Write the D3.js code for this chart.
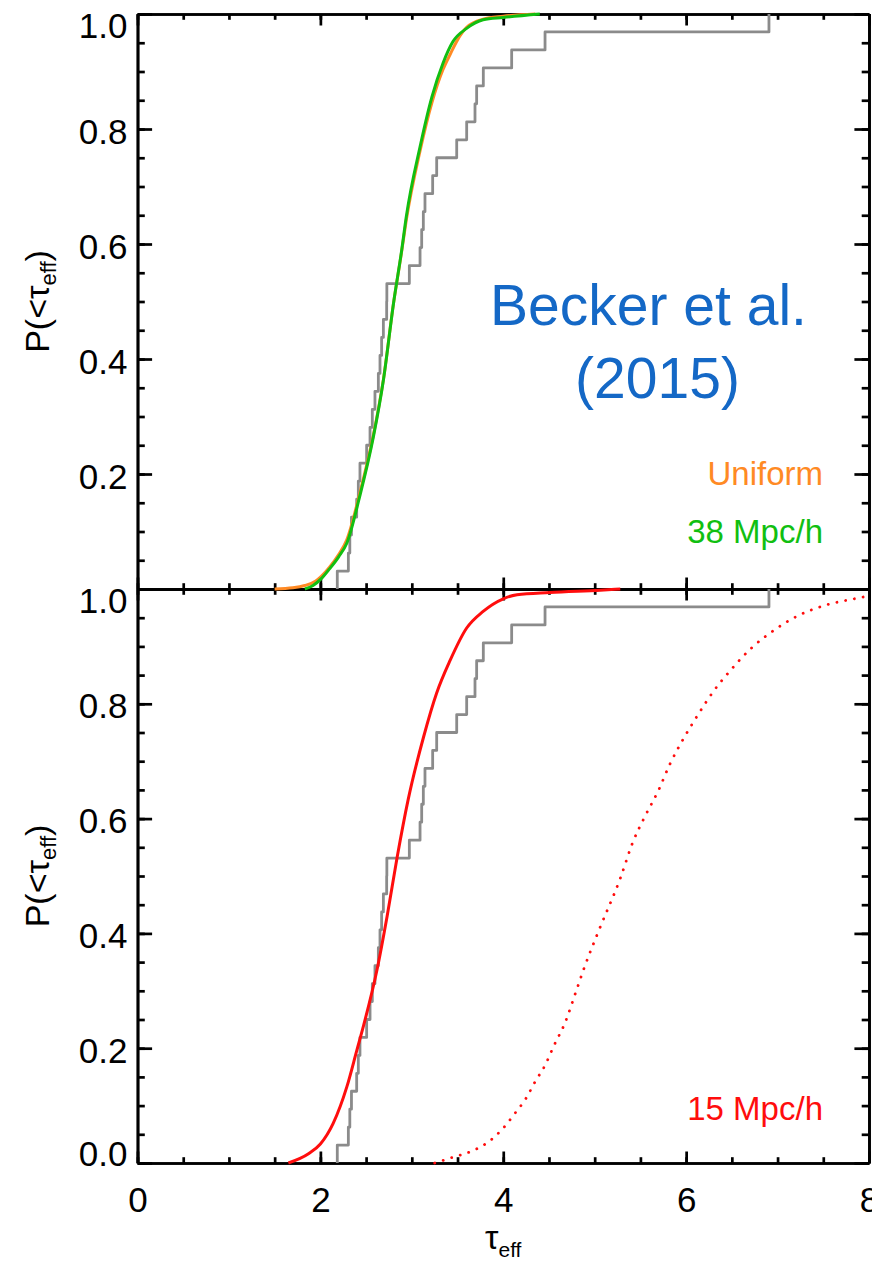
<!DOCTYPE html>
<html>
<head>
<meta charset="utf-8">
<script src="https://cdn.jsdelivr.net/npm/d3@7"></script>
<style>
  body { margin: 0; background: #fff; }
  svg { display: block; }
  text { font-family: "Liberation Sans", Arial, Helvetica, sans-serif; }
</style>
</head>
<body>
<svg id="chart" width="872" height="1263"></svg>
<script>
// ---- data -------------------------------------------------------------
// Observed effective optical depths (Becker et al. 2015), sorted; drawn as an empirical CDF
const observedTau = [2.185, 2.306, 2.322, 2.340, 2.397, 2.415, 2.433, 2.506,
                     2.543, 2.568, 2.597, 2.634, 2.652, 2.670, 2.689, 2.725,
                     2.727, 2.973, 3.090, 3.108, 3.126, 3.144, 3.228, 3.272,
                     3.491, 3.600, 3.691, 3.709, 3.782, 4.092, 4.457, 6.906];

// Model CDFs, top panel
const uniformTau = [1.50, 1.70, 1.83, 1.95, 2.01, 2.10, 2.20, 2.29, 2.43, 2.58, 2.69, 2.80,
                    2.89, 2.94, 3.09, 3.22, 3.34, 3.42, 3.50, 3.60, 3.78, 4.00, 4.35];
const uniformP   = [0.000, 0.002, 0.006, 0.014, 0.022, 0.038, 0.060, 0.086, 0.166, 0.268, 0.365, 0.497,
                    0.588, 0.642, 0.762, 0.846, 0.903, 0.930, 0.955, 0.977, 0.991, 0.996, 1.000];

const mfp38Tau = [1.83, 1.92, 2.01, 2.10, 2.20, 2.29, 2.43, 2.58, 2.69, 2.80, 2.89, 2.94,
                  3.09, 3.22, 3.34, 3.45, 3.60, 3.78, 4.00, 4.40];
const mfp38P   = [0.000, 0.006, 0.018, 0.035, 0.056, 0.080, 0.161, 0.265, 0.364, 0.497, 0.590, 0.648,
                  0.769, 0.856, 0.914, 0.952, 0.975, 0.990, 0.994, 1.000];

// Model CDFs, bottom panel
const mfp15Tau = [1.65, 1.87, 2.00, 2.14, 2.29, 2.40, 2.47, 2.62, 2.73, 2.84, 2.96, 3.13,
                  3.27, 3.42, 3.60, 3.78, 4.00, 4.15, 4.51, 5.06, 5.28];
const mfp15P   = [0.000, 0.016, 0.033, 0.069, 0.133, 0.197, 0.238, 0.337, 0.430, 0.533, 0.633, 0.743,
                  0.818, 0.876, 0.932, 0.961, 0.983, 0.990, 0.994, 0.998, 1.000];

const mfp15DotTau = [3.25, 3.45, 3.66, 3.84, 3.99, 4.13, 4.25, 4.35, 4.46, 4.55, 4.68, 4.79,
                     4.89, 5.04, 5.28, 5.42, 5.55, 5.70, 5.82, 5.97, 6.13, 6.30, 6.50, 6.72,
                     6.96, 7.23, 7.53, 7.84, 8.00];
const mfp15DotP   = [0.000, 0.010, 0.021, 0.037, 0.059, 0.087, 0.113, 0.142, 0.171, 0.203, 0.246, 0.296,
                     0.342, 0.403, 0.496, 0.560, 0.604, 0.650, 0.694, 0.739, 0.781, 0.822, 0.861, 0.898,
                     0.928, 0.954, 0.972, 0.983, 0.988];

// Axis ticks
const xMajorTicks = [0, 2, 4, 6, 8];
const xTickLabels = ["0", "2", "4", "6", "8"];
const xMinorTicks = d3.range(0, 8.001, 0.5);
const yMajorTicks = [0, 0.2, 0.4, 0.6, 0.8, 1.0];
const yTickLabels = ["0.0", "0.2", "0.4", "0.6", "0.8", "1.0"];
const yMinorTicks = d3.range(0, 1.0001, 0.05);

// ---- layout -----------------------------------------------------------
const svg = d3.select("#chart");
const plotLeft = 137.5, plotRight = 869;
const x = d3.scaleLinear().domain([0, 8]).range([plotLeft, plotRight]);
const yTop = d3.scaleLinear().domain([0, 1]).range([589, 14]);
const yBot = d3.scaleLinear().domain([0, 1]).range([1163, 589]);

const xTickMajor = 11.5, xTickMinor = 5.8;
const yTickMajor = 14.6, yTickMinor = 7.3;
const axisWidth = 2.7;
const fontStack = '"Liberation Sans", Arial, Helvetica, sans-serif';

function styleAxis(g) {
  g.attr("font-family", fontStack).attr("font-size", 35);
  g.selectAll("path.domain").attr("stroke", "#000").attr("stroke-width", axisWidth);
  g.selectAll(".tick line").attr("stroke", "#000").attr("stroke-width", axisWidth);
  g.selectAll(".tick text").attr("fill", "#000");
}

function drawPanel(y, showBottomLabels, yLabelFilter) {
  const g = svg.append("g");
  const [y0, y1] = y.range(); // y0 = bottom (P=0), y1 = top (P=1)

  // bottom x axis, ticks pointing up
  g.append("g").attr("transform", `translate(0,${y0})`)
    .call(d3.axisBottom(x).tickValues(xMinorTicks).tickSizeInner(-xTickMinor).tickSizeOuter(0).tickFormat(""))
    .call(styleAxis);
  g.append("g").attr("transform", `translate(0,${y0})`)
    .call(d3.axisBottom(x).tickValues(xMajorTicks).tickSizeInner(-xTickMajor).tickSizeOuter(0)
      .tickPadding(24)
      .tickFormat((d, i) => showBottomLabels ? xTickLabels[i] : ""))
    .call(styleAxis);

  // top x axis, ticks pointing down
  g.append("g").attr("transform", `translate(0,${y1})`)
    .call(d3.axisTop(x).tickValues(xMinorTicks).tickSizeInner(-xTickMinor).tickSizeOuter(0).tickFormat(""))
    .call(styleAxis);
  g.append("g").attr("transform", `translate(0,${y1})`)
    .call(d3.axisTop(x).tickValues(xMajorTicks).tickSizeInner(-xTickMajor).tickSizeOuter(0).tickFormat(""))
    .call(styleAxis);

  // left y axis, ticks pointing right
  g.append("g").attr("transform", `translate(${plotLeft},0)`)
    .call(d3.axisLeft(y).tickValues(yMinorTicks).tickSizeInner(-yTickMinor).tickSizeOuter(0).tickFormat(""))
    .call(styleAxis);
  const ly = g.append("g").attr("transform", `translate(${plotLeft},0)`)
    .call(d3.axisLeft(y).tickValues(yMajorTicks).tickSizeInner(-yTickMajor).tickSizeOuter(0)
      .tickPadding(10)
      .tickFormat((d, i) => yLabelFilter(d) ? yTickLabels[i] : ""))
    .call(styleAxis);
  // keep end labels inside the panel
  ly.selectAll(".tick text").attr("dy", d => d === 1 ? "0.66em" : (d === 0 ? "0.06em" : "0.40em"));

  // right y axis, ticks pointing left
  g.append("g").attr("transform", `translate(${plotRight},0)`)
    .call(d3.axisRight(y).tickValues(yMinorTicks).tickSizeInner(-yTickMinor).tickSizeOuter(0).tickFormat(""))
    .call(styleAxis);
  g.append("g").attr("transform", `translate(${plotRight},0)`)
    .call(d3.axisRight(y).tickValues(yMajorTicks).tickSizeInner(-yTickMajor).tickSizeOuter(0).tickFormat(""))
    .call(styleAxis);

  // y axis title  P(<τ_eff)
  const cy = (y0 + y1) / 2;
  const t = g.append("text")
    .attr("transform", `translate(49,${cy}) rotate(-90)`)
    .attr("text-anchor", "middle")
    .attr("font-family", fontStack)
    .attr("font-size", 34)
    .attr("fill", "#000");
  t.append("tspan").text("P(<τ");
  t.append("tspan").attr("font-size", 22).attr("dy", 7).text("eff");
  t.append("tspan").attr("dy", -7).text(")");
  return g;
}

function stepPoints(values) {
  const n = values.length;
  const pts = [[values[0], 0]];
  values.forEach((v, i) => pts.push([v, (i + 1) / n]));
  return pts;
}

function drawCurves(y, series) {
  series.forEach(s => {
    const line = d3.line()
      .x(d => x(d[0])).y(d => y(d[1]))
      .curve(s.curve || d3.curveMonotoneX);
    const p = svg.append("path")
      .datum(s.data)
      .attr("d", line)
      .attr("fill", "none")
      .attr("stroke", s.color)
      .attr("stroke-width", s.width || 3)
      .attr("stroke-linejoin", "round");
    if (s.dash) p.attr("stroke-dasharray", s.dash).attr("stroke-linecap", "round");
  });
}

const zip = (a, b) => a.map((v, i) => [v, b[i]]);

// ---- panels -----------------------------------------------------------
drawPanel(yTop, false, d => d > 0);
drawPanel(yBot, true, () => true);

const gray = "#8b8b8b", orange = "#ff8a24", green = "#11bf11", red = "#ff0d0d";

drawCurves(yTop, [
  { data: stepPoints(observedTau), color: gray, curve: d3.curveStepAfter, width: 2.8 },
  { data: zip(uniformTau, uniformP), color: orange, width: 3 },
  { data: zip(mfp38Tau, mfp38P), color: green, width: 3 }
]);

drawCurves(yBot, [
  { data: stepPoints(observedTau), color: gray, curve: d3.curveStepAfter, width: 2.8 },
  { data: zip(mfp15Tau, mfp15P), color: red, width: 3 },
  { data: zip(mfp15DotTau, mfp15DotP), color: red, width: 2.8, dash: "0.1,8.8" }
]);

// ---- annotations ------------------------------------------------------
const blue = "#1468c6";
svg.append("text").attr("x", 648.5).attr("y", 325).attr("text-anchor", "middle")
  .attr("font-size", 57).attr("fill", blue).text("Becker et al.");
svg.append("text").attr("x", 657.5).attr("y", 398).attr("text-anchor", "middle")
  .attr("font-size", 57).attr("fill", blue).text("(2015)");

svg.append("text").attr("x", 823).attr("y", 485).attr("text-anchor", "end")
  .attr("font-size", 33).attr("fill", orange).text("Uniform");
svg.append("text").attr("x", 823).attr("y", 543).attr("text-anchor", "end")
  .attr("font-size", 33).attr("fill", green).text("38 Mpc/h");
svg.append("text").attr("x", 823).attr("y", 1120).attr("text-anchor", "end")
  .attr("font-size", 33).attr("fill", red).text("15 Mpc/h");

// x axis title τ_eff
const xt = svg.append("text").attr("x", x(4)).attr("y", 1249).attr("text-anchor", "middle")
  .attr("font-size", 34).attr("fill", "#000");
xt.append("tspan").text("τ");
xt.append("tspan").attr("font-size", 21).attr("dy", 8).text("eff");
</script>
</body>
</html>
